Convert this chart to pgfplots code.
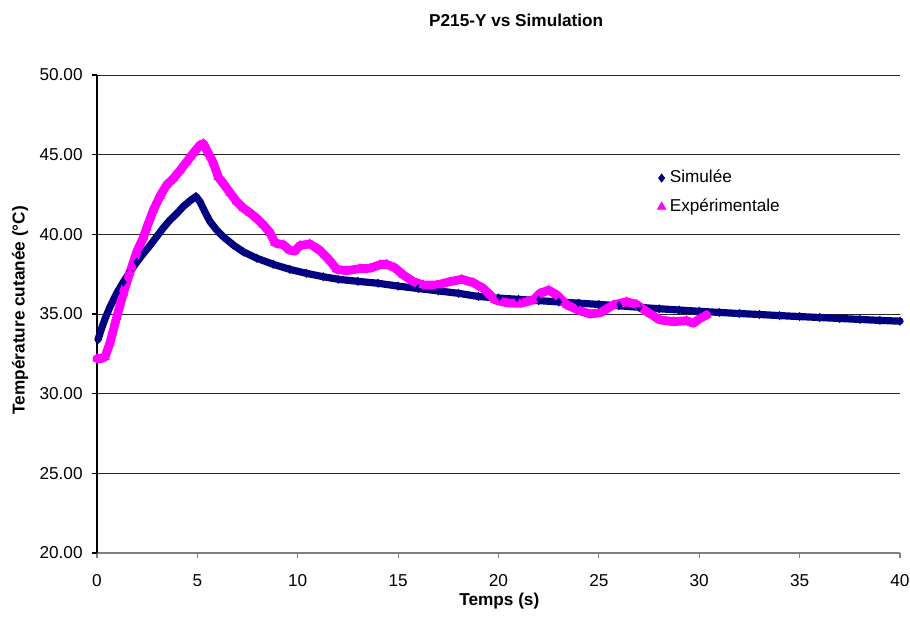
\documentclass[border=0pt]{standalone}
\usepackage{pgfplots}
\pgfplotsset{compat=1.18}
\usepackage{pgfplotstable}
\usepackage{fontspec}
\setmainfont{Liberation Sans}
\definecolor{simc}{HTML}{000080}
\definecolor{expc}{HTML}{FF00FF}
\definecolor{axgray}{HTML}{808080}

\pgfplotstableread{
t T
0.05 33.4
0.23 34.1
0.4 34.7
0.65 35.45
0.98 36.3
1.31 37.0
1.64 37.65
1.98 38.25
2.31 38.8
2.64 39.3
2.97 39.85
3.3 40.4
3.64 40.9
3.97 41.3
4.3 41.75
4.63 42.1
4.93 42.38
5.13 42.05
5.38 41.4
5.63 40.8
5.96 40.27
6.29 39.85
6.79 39.33
7.29 38.9
7.96 38.5
8.78 38.12
9.61 37.8
10.44 37.55
11.27 37.34
12.02 37.18
13 37.05
14 36.93
15 36.75
16 36.6
17 36.45
18 36.3
19 36.1
20 36.0
21 35.92
22 35.84
23 35.76
24 35.68
25 35.6
26 35.52
27 35.42
28 35.33
29 35.25
30 35.17
31 35.1
32 35.03
33 34.97
34 34.9
35 34.84
36 34.78
37 34.72
38 34.66
39 34.6
40 34.55
}\simtable

\pgfplotstableread{
t T
0 32.2
0.2 32.2
0.4 32.3
0.65 33.2
0.98 34.8
1.31 36.3
1.64 37.6
1.98 38.9
2.31 39.8
2.47 40.4
2.8 41.5
3.14 42.4
3.47 43.1
3.8 43.5
4.13 44.0
4.47 44.55
4.8 45.1
5.13 45.6
5.3 45.7
5.54 45.1
5.79 44.5
6.04 43.6
6.29 43.2
6.63 42.6
6.96 42.05
7.29 41.65
7.62 41.35
7.96 41.0
8.28 40.6
8.62 40.1
8.87 39.45
9.28 39.35
9.6 39.0
9.85 38.95
10.11 39.3
10.6 39.4
11.1 39.0
11.6 38.35
11.94 37.8
12.44 37.72
13.1 37.85
13.6 37.87
14.1 38.1
14.43 38.12
14.84 37.9
15.26 37.45
15.76 37.03
16.25 36.82
16.92 36.82
17.58 37.03
18.17 37.18
18.74 36.97
19.24 36.61
19.58 36.2
19.83 35.88
20.41 35.7
21.07 35.67
21.4 35.77
21.73 35.88
22.07 36.3
22.5 36.5
22.9 36.2
23.4 35.57
24.06 35.2
24.56 35.0
25.06 35.08
25.72 35.57
26.38 35.77
26.88 35.6
27.38 35.15
28.04 34.63
28.71 34.52
29.37 34.58
29.7 34.42
30.04 34.73
30.37 34.94
}\exptable

\begin{document}
\begin{tikzpicture}
\begin{axis}[
  scale only axis,
  width=401.5pt, height=239pt,
  xmin=0, xmax=40, ymin=20, ymax=50,
  xtick={0,5,...,40}, ytick={20,25,...,50},
  axis x line*=bottom, axis y line*=left,
  x axis line style={axgray, line width=0.6pt},
  y axis line style={black, line width=0.6pt},
  xtick style={axgray, line width=0.6pt},
  ytick style={black, line width=0.6pt},
  tick align=outside, major tick length=2.5pt,
  ymajorgrids, major grid style={black!85, line width=0.5pt},
  clip=false,
  /pgf/number format/assume math mode=true,
  yticklabel style={/pgf/number format/fixed, /pgf/number format/fixed zerofill, /pgf/number format/precision=2},
  every tick label/.append style={font=\fontsize{8.6}{10}\selectfont},
  every y tick label/.append style={anchor=east, inner sep=0pt, xshift=-4.5pt},
  every x tick label/.append style={anchor=north, inner sep=0pt, yshift=-8pt},
  title={P215-Y vs Simulation},
  every axis title/.style={at={(axis description cs:0.522,1.1025)}, anchor=base, font=\fontsize{8.6}{10}\selectfont\bfseries},
  xlabel={Temps (s)},
  every axis x label/.style={at={(axis description cs:0.501,-0.109)}, anchor=base, font=\fontsize{8.6}{10}\selectfont\bfseries},
  ylabel={Température cutanée (°C)},
  every axis y label/.style={at={(axis description cs:-0.0959,0.508)}, anchor=center, rotate=90, font=\fontsize{8.6}{10}\selectfont\bfseries},
  legend style={at={(axis cs:27.9,44.3)}, anchor=north west, draw=none, fill=none,
    font=\fontsize{8.6}{10}\selectfont, row sep=2.6pt, inner sep=0pt,
    /tikz/every even column/.append style={column sep=0pt}},
  legend cell align=left,
  legend image code/.code={\draw[#1] plot coordinates {(0.12cm,0cm)};},
]
\addplot[simc, line width=3.6pt, line join=round, line cap=round, forget plot] table[x=t,y=T] {\simtable};
\addplot[expc, line width=4.4pt, line join=round, line cap=round, forget plot] table[x=t,y=T] {\exptable};
\addplot[only marks, mark=diamond*, mark size=2pt, simc, draw=none] table[x=t,y=T] {\simtable};
\addplot[only marks, mark=triangle*, mark size=2.4pt, expc, draw=none] table[x=t,y=T] {\exptable};
\legend{Simulée, Expérimentale}
\end{axis}
\pgfresetboundingbox
\path (current axis.south west) ++(-48.5pt,-35pt) rectangle ++(455pt,311.5pt);
\end{tikzpicture}
\end{document}
